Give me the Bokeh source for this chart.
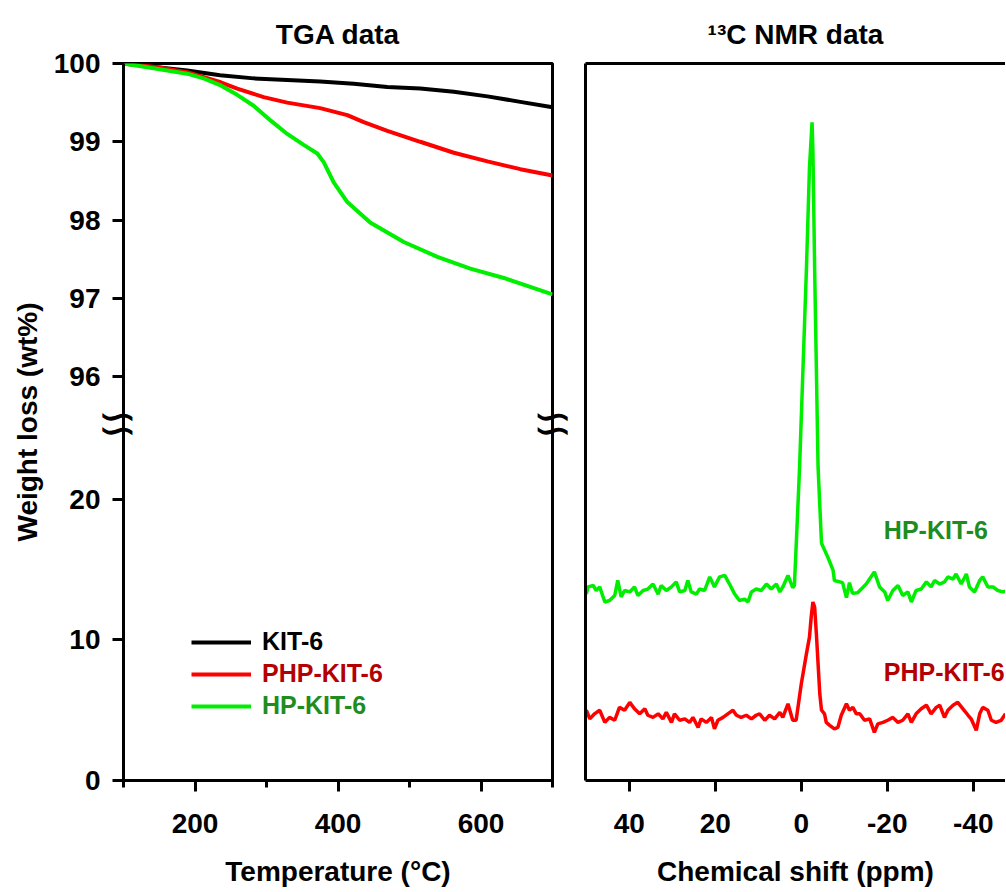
from bokeh.plotting import figure
from bokeh.models import Range1d, LinearAxis, FixedTicker, Legend, LegendItem, Label
from bokeh.layouts import row
from bokeh.embed import file_html
from bokeh.resources import INLINE

FONT = "Liberation Sans"

# ---------------- TGA data ----------------
temp_kit6 = [100, 150, 189, 235, 282, 329, 375, 422, 469, 515, 562, 609, 655, 700]
wt_kit6 = [100.0, 99.95, 99.91, 99.85, 99.81, 99.79, 99.77, 99.74, 99.70, 99.68, 99.64, 99.58, 99.51, 99.44]

temp_php = [100, 150, 189, 236, 259, 296, 329, 375, 413, 436, 469, 515, 562, 609, 655, 700]
wt_php = [100.0, 99.95, 99.89, 99.76, 99.68, 99.57, 99.50, 99.43, 99.34, 99.25, 99.14, 99.00, 98.86, 98.75, 98.65, 98.57]

temp_hp = [100, 142, 189, 212, 236, 259, 282, 306, 329, 352, 371, 380, 394, 413, 445, 492, 539, 585, 632, 700]
wt_hp = [100.0, 99.94, 99.87, 99.81, 99.72, 99.60, 99.46, 99.27, 99.10, 98.96, 98.85, 98.74, 98.48, 98.23, 97.97, 97.72, 97.53, 97.38, 97.26, 97.05]

# broken y axis of the TGA panel: lower part / upper part
lower_ticks = [0, 10, 20]
upper_ticks = [96, 97, 98, 99, 100]
LOWER_TOP = 51.03
UPPER_BOTTOM = 90.84
BREAK_MARKS = [26.0, 25.0]
x_major = [200, 400, 600]
x_minor = [100, 300, 500, 700]

# ---------------- 13C NMR data ----------------
ppm_hp = [50.0, 49.6, 48.4, 47.7, 46.9, 45.7, 44.6, 43.4, 42.7, 41.9,
          41.1, 39.9, 38.8, 38.0, 36.8, 35.7, 34.5, 33.3, 32.6, 31.4,
          30.2, 29.1, 28.3, 27.1, 26.4, 25.6, 24.4, 23.7, 22.5, 21.3,
          20.2, 19.0, 17.8, 16.7, 15.5, 14.4, 13.2, 12.4, 11.6, 10.5,
          9.3, 8.1, 7.0, 5.8, 5.0, 4.3, 3.1, 2.0, 1.6, 0.9,
          0.4, -0.4, -1.2, -1.9, -2.5, -2.7, -3.1, -3.5, -3.9, -4.7,
          -6.2, -7.4, -7.7, -9.6, -10.5, -11.2, -11.9, -13.1, -15.1, -17.0,
          -18.2, -19.4, -20.1, -21.3, -22.5, -23.6, -24.8, -25.6, -26.7, -27.9,
          -29.1, -30.2, -31.0, -32.2, -33.3, -34.1, -35.3, -36.0, -37.2, -38.4,
          -39.1, -40.3, -41.5, -42.2, -43.4, -44.6, -45.7, -46.9, -48.0]
int_hp = [26.0, 27.0, 27.2, 26.5, 27.0, 24.9, 25.1, 25.8, 27.9, 25.6,
          26.5, 26.3, 27.0, 25.8, 26.5, 26.7, 27.4, 26.0, 27.2, 26.5,
          27.0, 27.7, 26.3, 26.5, 27.9, 26.3, 26.0, 26.7, 26.5, 28.4,
          27.0, 28.4, 28.6, 27.4, 26.0, 25.1, 25.3, 24.9, 26.3, 26.7,
          26.5, 27.4, 26.7, 27.4, 26.3, 27.0, 28.6, 26.9, 27.2, 36.7,
          43.7, 57.6, 71.5, 85.5, 91.8, 87.9, 71.5, 57.6, 43.7, 33.1,
          31.1, 29.3, 27.9, 27.6, 25.5, 27.6, 26.1, 26.2, 27.4, 29.1,
          27.0, 26.3, 25.1, 26.5, 27.2, 25.8, 26.3, 24.9, 26.5, 26.7,
          27.7, 27.0, 27.9, 27.4, 27.7, 28.4, 28.1, 28.8, 27.4, 28.8,
          27.0, 26.3, 27.9, 28.4, 27.0, 27.0, 26.5, 26.3, 26.5]

ppm_php = [50.0, 49.2, 48.1, 46.9, 45.7, 44.6, 43.4, 42.3, 41.1, 39.9,
           38.8, 37.6, 36.4, 35.7, 34.5, 33.3, 32.2, 31.4, 30.2, 29.5,
           28.3, 27.1, 26.0, 25.2, 24.0, 23.3, 22.1, 20.9, 20.2, 19.4,
           18.2, 17.1, 15.9, 15.1, 14.0, 12.8, 11.6, 10.5, 9.7, 8.5,
           7.4, 6.2, 5.0, 4.3, 3.1, 2.0, 1.2, 0.0, -1.2, -1.9,
           -2.3, -2.7, -3.1, -3.5, -3.9, -4.3, -4.7, -5.4, -5.8, -6.6,
           -7.7, -8.5, -9.3, -10.5, -11.2, -12.0, -12.8, -13.6, -14.7, -15.9,
           -17.0, -17.8, -19.0, -20.1, -21.3, -22.5, -23.6, -24.8, -25.6, -26.7,
           -27.9, -29.1, -30.2, -31.4, -32.2, -33.3, -34.1, -35.3, -36.4, -37.6,
           -38.8, -39.5, -40.7, -41.5, -42.2, -43.4, -44.2, -45.3, -46.5, -47.5]
int_php = [9.8, 8.6, 9.3, 9.8, 8.1, 8.8, 8.4, 10.2, 9.8, 10.9,
           10.0, 9.3, 10.0, 9.1, 8.8, 9.3, 8.6, 9.5, 8.1, 9.3,
           8.4, 8.6, 8.1, 8.8, 7.4, 8.6, 8.1, 8.8, 7.2, 8.4,
           8.8, 9.3, 9.8, 9.1, 8.8, 9.1, 8.6, 9.1, 9.3, 8.4,
           9.1, 8.6, 9.5, 8.8, 10.7, 8.4, 8.4, 13.5, 17.7, 20.0,
           22.8, 24.9, 24.2, 20.5, 16.3, 12.1, 9.8, 9.3, 8.1, 7.7,
           7.2, 7.4, 9.1, 10.7, 9.8, 10.2, 9.3, 9.3, 8.4, 8.6,
           6.7, 7.9, 8.1, 8.4, 8.8, 8.1, 8.4, 9.3, 8.1, 9.3,
           10.0, 10.5, 9.3, 10.2, 10.5, 8.8, 9.8, 10.5, 10.9, 10.0,
           9.1, 8.6, 7.0, 9.3, 10.2, 9.8, 8.4, 8.1, 8.4, 9.3]

names = ["KIT-6", "PHP-KIT-6", "HP-KIT-6"]
line_colors = ["#000000", "#ff0000", "#00ee00"]
text_colors = ["#000000", "#b40000", "#1e8c1e"]
nmr_ticks = [40, 20, 0, -20, -40]


def style_axis(ax, size="28px"):
    ax.axis_line_width = 3
    ax.axis_line_color = "black"
    ax.major_tick_line_width = 3
    ax.major_tick_out = 11
    ax.major_tick_in = 0
    ax.minor_tick_line_width = 3
    ax.minor_tick_out = 7
    ax.minor_tick_in = 0
    ax.major_label_text_font = FONT
    ax.major_label_text_font_size = size
    ax.major_label_text_font_style = "bold"
    ax.major_label_text_color = "black"
    ax.axis_label_text_font = FONT
    ax.axis_label_text_font_size = size
    ax.axis_label_text_font_style = "bold"
    ax.axis_label_text_color = "black"


def style_title(p):
    p.title.align = "center"
    p.title.text_font = FONT
    p.title.text_font_size = "28px"
    p.title.text_font_style = "bold"
    p.title.text_color = "black"
    p.title.standoff = 28


def break_axis(standoff):
    # an axis that only carries the two wavy axis-break marks
    ax = LinearAxis(ticker=FixedTicker(ticks=BREAK_MARKS, minor_ticks=[]))
    ax.axis_line_color = None
    ax.major_tick_line_color = None
    ax.minor_tick_line_color = None
    ax.major_tick_out = 0
    ax.major_tick_in = 0
    ax.minor_tick_out = 0
    ax.minor_tick_in = 0
    ax.major_label_overrides = {v: "∽" for v in BREAK_MARKS}
    ax.major_label_text_font = "DejaVu Sans"
    ax.major_label_text_font_size = "48px"
    ax.major_label_text_color = "black"
    ax.major_label_standoff = standoff
    return ax


# ---------------- left: TGA panel ----------------
p1 = figure(frame_width=429, frame_height=717,
            x_range=Range1d(100, 700), y_range=Range1d(0, LOWER_TOP),
            output_backend="svg", toolbar_location=None,
            min_border_left=123, min_border_right=20,
            min_border_top=63, min_border_bottom=108,
            title="TGA data")
p1.extra_y_ranges = {"upper": Range1d(UPPER_BOTTOM, 100)}
p1.grid.visible = False
p1.outline_line_color = "black"
p1.outline_line_width = 3
style_title(p1)

xa = p1.xaxis[0]
style_axis(xa)
xa.ticker = FixedTicker(ticks=x_major, minor_ticks=x_minor)
xa.axis_label = "Temperature (°C)"
xa.major_label_standoff = 22
xa.axis_label_standoff = 20

ya = p1.yaxis[0]
style_axis(ya)
ya.minor_tick_line_color = None


def upper_to_lower(v):
    return round((v - UPPER_BOTTOM) / (100 - UPPER_BOTTOM) * LOWER_TOP, 4)


up_pos = [upper_to_lower(v) for v in upper_ticks]
ya.ticker = FixedTicker(ticks=lower_ticks + up_pos)
ya.major_label_overrides = {pos: str(v) for pos, v in zip(up_pos, upper_ticks)}
ya.axis_label = "Weight loss (wt%)"
ya.major_label_standoff = 12
ya.axis_label_standoff = 8

p1.add_layout(break_axis(-129), "left")
p1.add_layout(break_axis(-20), "right")

renderers = []
for t, w, c in zip([temp_kit6, temp_php, temp_hp], [wt_kit6, wt_php, wt_hp], line_colors):
    renderers.append(p1.line(t, w, line_color=c, line_width=4, y_range_name="upper"))

legend_y = [124, 92, 60]
for r, name, tc, ly in zip(renderers, names, text_colors, legend_y):
    lg = Legend(items=[LegendItem(label=name, renderers=[r])], location=(68, ly),
                label_text_color=tc, label_text_font=FONT, label_text_font_size="25px",
                label_text_font_style="bold", glyph_width=60, glyph_height=24,
                label_height=24, label_standoff=11, padding=0, margin=0, spacing=0,
                border_line_color=None, background_fill_alpha=0)
    p1.add_layout(lg)

# ---------------- right: 13C NMR panel ----------------
p2 = figure(frame_width=420, frame_height=717,
            x_range=Range1d(50.2, -47.5), y_range=Range1d(0, 100),
            output_backend="svg", toolbar_location=None,
            min_border_left=10, min_border_right=0,
            min_border_top=63, min_border_bottom=108,
            title="¹³C NMR data")
p2.grid.visible = False
p2.outline_line_color = None
style_title(p2)

xb = p2.xaxis[0]
style_axis(xb)
xb.ticker = FixedTicker(ticks=nmr_ticks, minor_ticks=[])
xb.major_label_overrides = {v: str(v) for v in nmr_ticks}
xb.axis_label = "Chemical shift (ppm)"
xb.major_label_standoff = 22
xb.axis_label_standoff = 20

yb = p2.yaxis[0]
style_axis(yb)
yb.ticker = FixedTicker(ticks=[], minor_ticks=[])

top_ax = LinearAxis(ticker=FixedTicker(ticks=[], minor_ticks=[]))
style_axis(top_ax)
p2.add_layout(top_ax, "above")

p2.line(ppm_hp, int_hp, line_color=line_colors[2], line_width=3.5)
p2.line(ppm_php, int_php, line_color=line_colors[1], line_width=3.5)

p2.add_layout(Label(x=-19.2, y=34.9, text="HP-KIT-6", text_color=text_colors[2],
                    text_font=FONT, text_font_size="25px", text_font_style="bold",
                    text_align="left", text_baseline="middle"))
p2.add_layout(Label(x=-19.2, y=15.1, text="PHP-KIT-6", text_color=text_colors[1],
                    text_font=FONT, text_font_size="25px", text_font_style="bold",
                    text_align="left", text_baseline="middle"))

layout = row(p1, p2)
open("out.html", "w").write(file_html(layout, INLINE))
